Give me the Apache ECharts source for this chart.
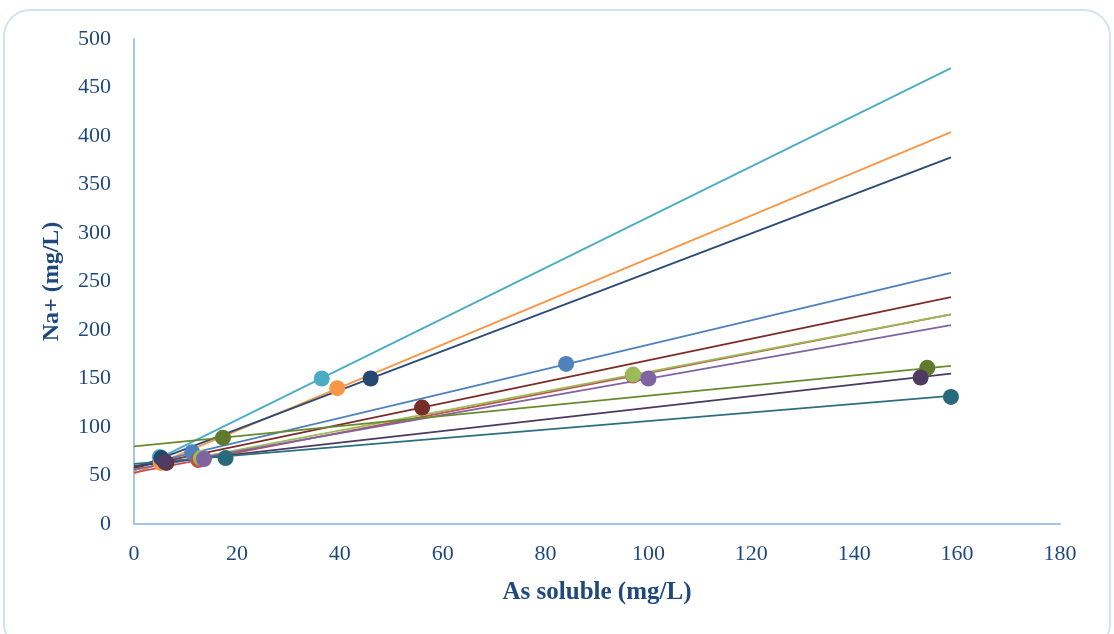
<!DOCTYPE html>
<html>
<head>
<meta charset="utf-8">
<script src="https://cdn.jsdelivr.net/npm/echarts@6/dist/echarts.min.js"></script>
<style>
  html, body { margin: 0; padding: 0; background: #fff; }
  #chart { width: 1114px; height: 634px; }
</style>
</head>
<body>
<div id="chart"></div>
<script>
(function () {

    // one entry per sample series, same order in every array (later ones drawn on top)
    var lineColors = ['#4BACC6', '#F79646', '#2A4B78', '#4F81BD', '#7A2E2C', '#C0504D',
                      '#9BBB59', '#8064A2', '#6A8A2E', '#4B3A63', '#2B6F80'];
    var dotColors  = ['#4BACC6', '#F79646', '#254770', '#4F81BD', '#772C2A', '#C0504D',
                      '#9BBB59', '#8064A2', '#5E7A2A', '#4D3B62', '#276A7C'];

    // measured points: [as soluble, Na+]
    var lowX  = [5.0, 5.2, 5.3, 11.3, 6.3, 12.5, 13.0, 13.6, 17.3, 6.0, 17.8];
    var lowY  = [69, 63, 68, 74, 63, 66, 68, 67, 89, 64, 68];
    var highX = [36.5, 39.5, 46.0, 84.0, 56.0, 97.0, 97.0, 100.0, 154.2, 152.9, 158.8];
    var highY = [150, 140, 150, 165, 120, 153, 154, 150, 161, 151, 131];

    // trend lines, value at x = 0 and at x = trendEndX
    var trendEndX = 158.8;
    var trendStart = [55, 52, 57, 59, 58, 53, 56, 56, 80, 60, 62];
    var trendEnd   = [470, 404, 378, 259, 234, 216, 216, 205, 163, 155, 132];

    var xTicks = { min: 0, max: 180, interval: 20 };
    var yTicks = { min: 0, max: 500, interval: 50 };

    var TXT = '#1F497D';
    var AXIS = '#A9C4EA';
    var FONT = '"Liberation Serif", "DejaVu Serif", serif';

    function _buildSeries() {
      var out = [];
      lineColors.forEach(function (c, i) {
        out.push({
          type: 'line',
          data: [[0, trendStart[i]], [trendEndX, trendEnd[i]]],
          showSymbol: false,
          symbol: 'none',
          silent: true,
          z: 2,
          lineStyle: { color: c, width: 1.8 }
        });
      });
      dotColors.forEach(function (c, i) {
        out.push({
          type: 'scatter',
          data: [[lowX[i], lowY[i]], [highX[i], highY[i]]],
          symbolSize: 16,
          z: 3,
          itemStyle: { color: c, opacity: 1 }
        });
      });
      return out;
    }

    function _init() {
      var chart = echarts.init(document.getElementById('chart'));
      var opt = {
        animation: false,
        graphic: [{
          type: 'rect',
          shape: { x: 4, y: 10, width: 1106, height: 640, r: 26 },
          style: { fill: 'none', stroke: '#D3E1F3', lineWidth: 2 },
          z: -1
        }],
        grid: { left: 134, right: 54, top: 39, bottom: 110 },
        xAxis: {
          type: 'value',
          min: xTicks.min, max: xTicks.max, interval: xTicks.interval,
          name: 'As soluble (mg/L)',
          nameLocation: 'middle',
          nameGap: 56,
          nameTextStyle: { color: TXT, fontFamily: FONT, fontWeight: 'bold', fontSize: 25 },
          axisLine: { show: true, lineStyle: { color: AXIS, width: 2 } },
          axisTick: { show: false },
          splitLine: { show: false },
          axisLabel: { color: TXT, fontFamily: FONT, fontSize: 22, margin: 19 }
        },
        yAxis: {
          type: 'value',
          min: yTicks.min, max: yTicks.max, interval: yTicks.interval,
          name: 'Na+ (mg/L)',
          nameLocation: 'middle',
          nameGap: 70,
          nameRotate: 90,
          nameTextStyle: { color: TXT, fontFamily: FONT, fontWeight: 'bold', fontSize: 24 },
          axisLine: { show: true, lineStyle: { color: AXIS, width: 2 } },
          axisTick: { show: false },
          splitLine: { show: false },
          axisLabel: { color: TXT, fontFamily: FONT, fontSize: 22, margin: 23 }
        },
        series: _buildSeries()
      };
      chart.setOption(opt);
    }

    _init();
})();
</script>
</body>
</html>
